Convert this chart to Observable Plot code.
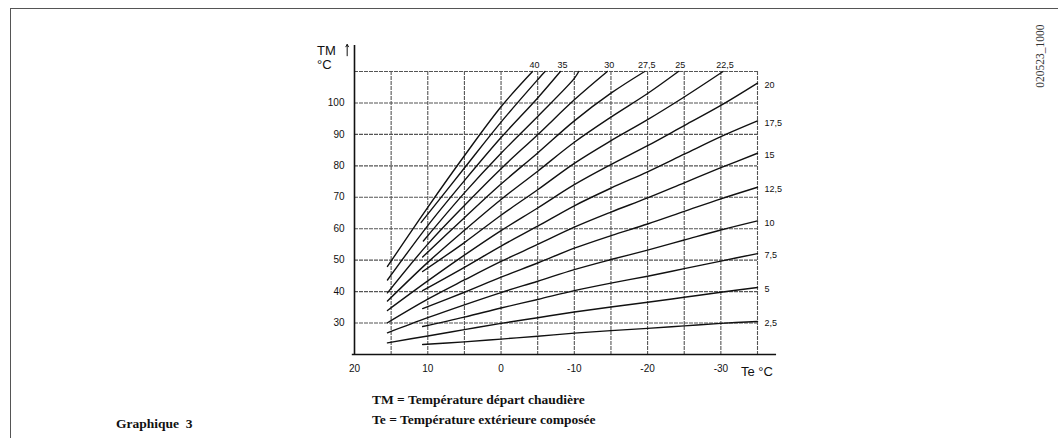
<!DOCTYPE html>
<html><head><meta charset="utf-8">
<script src="https://cdn.jsdelivr.net/npm/d3@7"></script>
<script src="https://cdn.jsdelivr.net/npm/@observablehq/plot@0.6"></script>
<style>
body{margin:0;background:#fff;}
#wrap{position:relative;width:1058px;height:438px;overflow:hidden;background:#fff;}
#frame{position:absolute;left:10px;top:8px;width:1048px;height:440px;border-top:1.5px solid #555;border-left:1.5px solid #555;}
.cap{position:absolute;font-family:"Liberation Serif",serif;font-weight:bold;font-size:13.5px;color:#111;white-space:nowrap;}
.ax{position:absolute;font-family:"Liberation Sans",Arial,sans-serif;font-size:13px;color:#111;white-space:nowrap;line-height:1;}
#wm{position:absolute;left:1000px;top:50px;width:80px;font-family:"Liberation Serif",serif;font-size:11.5px;color:#333;transform:rotate(-90deg);text-align:center;}
#chart{position:absolute;left:0;top:0;}
</style></head>
<body>
<div id="wrap">
<div id="frame"></div>
<div id="chart"></div>
<div class="ax" style="left:317px;top:44px;">TM</div>
<div class="ax" style="left:317px;top:58px;">°C</div>
<div class="ax" style="left:741px;top:365px;">Te °C</div>
<div class="cap" style="left:372px;top:392px;">TM = Température départ chaudière</div>
<div class="cap" style="left:372px;top:412px;">Te = Température extérieure composée</div>
<div class="cap" style="left:116px;top:416px;">Graphique&nbsp; 3</div>
<div id="wm">020523_1000</div>
</div>
<script>
// Axis ticks
const xTickValues = [20, 10, 0, -10, -20, -30];
const xGridValues = [15, 10, 5, 0, -5, -10, -15, -20, -25, -30, -35];
const yTickValues = [30, 40, 50, 60, 70, 80, 90, 100];
const yGridValues = [30, 40, 50, 60, 70, 80, 90, 100, 110];

// Curve names (slope settings) and their labels
const curveNames = ["2,5","5","7,5","10","12,5","15","17,5","20","22,5","25","27,5","30","32,5","35","37,5","40"];
const rightLabelled = ["20","17,5","15","12,5","10","7,5","5","2,5"];
const topLabelled = ["40","35","30","27,5","25","22,5"];

// Each curve: [Te outside, TM flow temperature]
const curve2_5  = [[10.7,23.2],[5,24.0],[0,24.9],[-5,25.8],[-10,26.8],[-15,27.6],[-20,28.3],[-25,29.1],[-30,29.9],[-35,30.5]];
const curve5    = [[15.5,23.7],[10,25.9],[5,27.9],[0,29.9],[-5,31.7],[-10,33.5],[-15,35.1],[-20,36.6],[-25,38.2],[-30,39.8],[-35,41.3]];
const curve7_5  = [[10.7,28.9],[5,31.9],[0,34.8],[-5,37.5],[-10,40.3],[-15,42.7],[-20,44.9],[-25,47.3],[-30,49.7],[-35,52.1]];
const curve10   = [[15.5,26.9],[10,31.7],[5,35.8],[0,39.7],[-5,43.3],[-10,47.0],[-15,50.2],[-20,53.2],[-25,56.4],[-30,59.6],[-35,62.5]];
const curve12_5 = [[10.7,34.6],[5,39.8],[0,44.6],[-5,49.1],[-10,53.8],[-15,57.8],[-20,61.5],[-25,65.5],[-30,69.5],[-35,73.2]];
const curve15   = [[15.5,30.1],[10,37.6],[5,43.7],[0,49.6],[-5,55.0],[-10,60.5],[-15,65.3],[-20,69.8],[-25,74.6],[-30,79.4],[-35,84.0]];
const curve17_5 = [[10.7,40.3],[5,47.7],[0,54.5],[-5,60.8],[-10,67.3],[-15,72.9],[-20,78.1],[-25,83.7],[-30,89.3],[-35,94.3]];
const curve20   = [[15.5,34.0],[10,43.4],[5,51.6],[0,59.4],[-5,66.6],[-10,74.0],[-15,80.4],[-20,86.4],[-25,92.8],[-30,99.2],[-35,106.3]];
const curve22_5 = [[10.7,46.4],[5,55.6],[0,64.3],[-5,72.4],[-10,80.8],[-15,88.0],[-20,94.7],[-25,101.9],[-30.3,110]];
const curve25   = [[15.5,37.0],[10,49.3],[5,59.5],[0,69.3],[-5,78.3],[-10,87.5],[-15,95.5],[-20,103.0],[-24.2,110]];
const curve27_5 = [[10.7,51.0],[5,63.5],[0,74.2],[-5,84.1],[-10,94.3],[-15,103.1],[-19.6,110]];
const curve30   = [[15.5,39.6],[10,55.1],[5,67.4],[0,79.1],[-5,89.9],[-10,101.0],[-14.5,110]];
const curve32_5 = [[10.6,56.1],[5,71.4],[0,84.0],[-5,95.7],[-10,107.8],[-10.6,110]];
const curve35   = [[15.5,43.7],[10,61.0],[5,75.3],[0,89.0],[-5,101.6],[-8.1,110]];
const curve37_5 = [[10.9,62.0],[5,79.3],[0,93.9],[-5,107.4],[-6.0,110]];
const curve40   = [[15.5,48.0],[10,66.8],[5,83.2],[0,98.8],[-4.3,110]];

const curveSeries = [curve2_5,curve5,curve7_5,curve10,curve12_5,curve15,curve17_5,curve20,curve22_5,curve25,curve27_5,curve30,curve32_5,curve35,curve37_5,curve40];

const rows = [];
curveSeries.forEach((pts, i) => pts.forEach(([te, tm]) => rows.push({name: curveNames[i], te, tm})));
const ends = curveSeries.map((pts, i) => ({name: curveNames[i], te: pts[pts.length-1][0], tm: pts[pts.length-1][1]}));
const rightEnds = ends.filter(d => rightLabelled.includes(d.name));
const topEnds = ends.filter(d => topLabelled.includes(d.name));

// axis line extents (data units)
const yAxisTop = [118.3];
const xAxisEnd = [-37.6];

const chart = Plot.plot({
  width: 1058, height: 438,
  marginLeft: 354, marginRight: 301, marginTop: 71, marginBottom: 84,
  x: {domain: [20, -35]},
  y: {domain: [20, 110]},
  style: {fontFamily: "Liberation Sans, Arial, sans-serif", fontSize: "10px", color: "#111", background: "transparent", overflow: "visible"},
  marks: [
    Plot.gridX(xGridValues, {stroke: "#555", strokeOpacity: 1, strokeWidth: 1.1, strokeDasharray: "4,1"}),
    Plot.gridY(yGridValues, {stroke: "#555", strokeOpacity: 1, strokeWidth: 1.1, strokeDasharray: "4,1"}),
    Plot.axisX(xTickValues, {tickSize: 0, tickPadding: 10, tickFormat: d => String(d), fontSize: 10, label: null}),
    Plot.axisY(yTickValues, {tickSize: 0, tickPadding: 10, tickFormat: d => String(d), fontSize: 10, label: null}),
    Plot.ruleX([20], {y1: 20, y2: yAxisTop[0], stroke: "#111", strokeWidth: 1.6}),
    Plot.ruleY([20], {x1: 20.3, x2: xAxisEnd[0], stroke: "#111", strokeWidth: 1.6}),
    Plot.arrow([{x: 21, y1: 115, y2: 118.6}], {x1: "x", x2: "x", y1: "y1", y2: "y2", stroke: "#111", strokeWidth: 1, headLength: 4}),
    Plot.line(rows, {x: "te", y: "tm", z: "name", stroke: "#111", strokeWidth: 1.4, curve: "catmull-rom"}),
    Plot.text(rightEnds, {x: -35, y: "tm", text: "name", dx: 7, dy: 2, textAnchor: "start", fontSize: 9, fill: "#111"}),
    Plot.text(topEnds, {x: "te", y: 110, text: "name", dx: 2, dy: -6, textAnchor: "middle", fontSize: 9, fill: "#111"})
  ]
});
document.getElementById("chart").appendChild(chart);
</script>
</body></html>
